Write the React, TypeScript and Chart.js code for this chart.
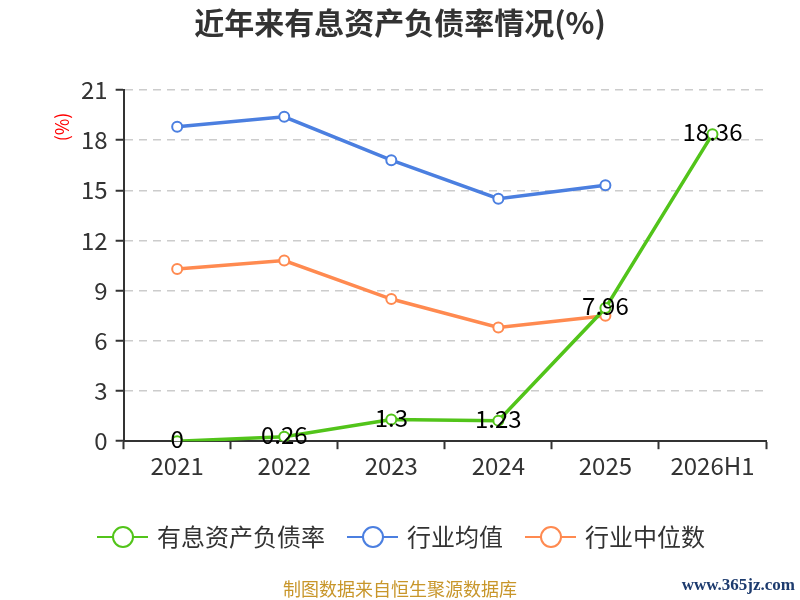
import { useEffect, useRef } from "react";
import Chart from "chart.js/auto";

const CATEGORIES = ["2021", "2022", "2023", "2024", "2025", "2026H1"];
const DEBT_RATIO = [0, 0.26, 1.3, 1.23, 7.96, 18.36];
const INDUSTRY_AVG = [18.8, 19.4, 16.8, 14.5, 15.3, null];
const INDUSTRY_MEDIAN = [10.3, 10.8, 8.5, 6.8, 7.5, null];
const SERIES_NAMES = ["有息资产负债率", "行业均值", "行业中位数"];
const SERIES_COLORS = ["#52c41a", "#4b7fe0", "#ff8a50"];

const FONT = '"Noto Sans CJK SC", "Noto Sans", sans-serif';

const extras = {
  id: "extras",
  afterDatasetsDraw(chart: any) {
    const ctx = chart.ctx as CanvasRenderingContext2D;
    // value labels for the first series
    const meta = chart.getDatasetMeta(0);
    ctx.save();
    ctx.font = `24px ${FONT}`;
    ctx.fillStyle = "#000";
    ctx.textAlign = "center";
    ctx.textBaseline = "middle";
    meta.data.forEach((pt: any, i: number) => {
      ctx.fillText(String(DEBT_RATIO[i]), pt.x, pt.y - 2);
    });
    ctx.restore();
  },
  afterDraw(chart: any) {
    const ctx = chart.ctx as CanvasRenderingContext2D;
    ctx.save();
    // title
    ctx.font = `bold 30px ${FONT}`;
    ctx.fillStyle = "#333";
    ctx.textAlign = "center";
    ctx.textBaseline = "middle";
    ctx.fillText("近年来有息资产负债率情况(%)", 400, 23);

    // unit
    ctx.save();
    ctx.translate(62, 127);
    ctx.rotate(-Math.PI / 2);
    ctx.font = `18px ${FONT}`;
    ctx.fillStyle = "#ff0000";
    ctx.fillText("(%)", 0, 0);
    ctx.restore();

    // legend
    let x = 97;
    const y = 537;
    ctx.font = `24px ${FONT}`;
    SERIES_NAMES.forEach((name, i) => {
      ctx.strokeStyle = SERIES_COLORS[i];
      ctx.lineWidth = 2;
      ctx.beginPath();
      ctx.moveTo(x, y);
      ctx.lineTo(x + 51, y);
      ctx.stroke();
      ctx.beginPath();
      ctx.arc(x + 26, y, 10, 0, Math.PI * 2);
      ctx.fillStyle = "#fff";
      ctx.fill();
      ctx.stroke();
      ctx.fillStyle = "#333";
      ctx.textAlign = "left";
      ctx.fillText(name, x + 60, y);
      x += 60 + ctx.measureText(name).width + 22;
    });

    // footer
    ctx.textAlign = "center";
    ctx.font = `18px ${FONT}`;
    ctx.fillStyle = "#c8962a";
    ctx.fillText("制图数据来自恒生聚源数据库", 400, 589);

    ctx.textAlign = "right";
    ctx.font = `bold 17px "Liberation Serif", serif`;
    ctx.fillStyle = "#1d3b6e";
    ctx.fillText("www.365jz.com", 795, 586);
    ctx.restore();
  },
};

export default function App() {
  const canvasRef = useRef<HTMLCanvasElement>(null);

  useEffect(() => {
    if (!canvasRef.current) return;
    const chart = new Chart(canvasRef.current, {
      type: "line",
      data: {
        labels: CATEGORIES,
        datasets: [DEBT_RATIO, INDUSTRY_AVG, INDUSTRY_MEDIAN].map((d, i) => ({
          label: SERIES_NAMES[i],
          data: d,
          borderColor: SERIES_COLORS[i],
          backgroundColor: "#fff",
          borderWidth: 3.5,
          pointRadius: 5,
          pointBorderWidth: 2,
          pointBackgroundColor: "#fff",
          pointBorderColor: SERIES_COLORS[i],
          tension: 0,
        })),
      },
      options: {
        animation: false,
        responsive: true,
        maintainAspectRatio: false,
        layout: { padding: { top: 90, left: 73, right: 34, bottom: 118 } },
        plugins: {
          legend: { display: false },
          title: { display: false },
          tooltip: { enabled: false },
        },
        scales: {
          x: {
            offset: true,
            grid: {
              offset: true,
              drawOnChartArea: false,
              tickColor: "#333",
              tickLength: 8,
              tickWidth: 2,
            },
            border: { color: "#333", width: 2 },
            ticks: { color: "#333", font: { size: 24, family: FONT }, padding: 2 },
          },
          y: {
            min: 0,
            max: 21,
            grid: {
              color: "#ccc",
              lineWidth: 1.5,
              tickColor: "#333",
              tickLength: 8,
              tickWidth: 2,
            },
            border: { color: "#333", width: 2, dash: [8, 6] },
            ticks: { stepSize: 3, color: "#333", font: { size: 24, family: FONT }, padding: 8 },
          },
        },
      },
      plugins: [extras],
    });
    return () => chart.destroy();
  }, []);

  return (
    <div style={{ position: "absolute", left: 0, top: 0, width: 800, height: 600, background: "#fff" }}>
      <canvas ref={canvasRef} />
    </div>
  );
}
